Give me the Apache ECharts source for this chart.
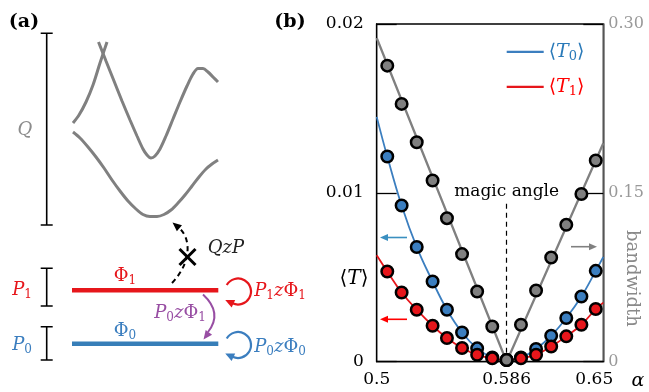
<!DOCTYPE html>
<html>
<head>
<meta charset="utf-8">
<script src="https://cdn.jsdelivr.net/npm/echarts@6/dist/echarts.min.js"></script>
<style>
  html, body { margin: 0; padding: 0; background: #fff; }
  #chart { width: 649px; height: 392px; }
</style>
</head>
<body>
<div id="chart"></div>
<script>
// panel (b) data
const alpha = [0.507, 0.5165, 0.5265, 0.537, 0.5465, 0.5565, 0.5665, 0.5765, 0.586, 0.5955, 0.6055, 0.6155, 0.6255, 0.6355, 0.645];
const bandwidth = [0.263, 0.229, 0.195, 0.161, 0.1275, 0.0956, 0.0624, 0.0313, 0.0015, 0.0328, 0.0633, 0.0926, 0.1216, 0.149, 0.1787];
const t0 = [0.01215, 0.00925, 0.00679, 0.00475, 0.00308, 0.00173, 0.00079, 0.00025, 0.0001, 0.00025, 0.00075, 0.00154, 0.00259, 0.00386, 0.00538];
const t1 = [0.00534, 0.0041, 0.00308, 0.00213, 0.0014, 0.00081, 0.00041, 0.0002, 0.0001, 0.0002, 0.00041, 0.0009, 0.0015, 0.00219, 0.00312];
const bandwidthFit = [[0.5, 0.2876], [0.586, 0], [0.65, 0.194]];
const t0Ends = [[0.5, 0.0145], [0.65, 0.0062]];
const t1Ends = [[0.5, 0.0063], [0.65, 0.0035]];
const xTicks = [0.5, 0.586, 0.65];
const magicAngle = 0.586;

// panel (a) schematic curves, in pixel units of the left half
const bandUpper = [[73, 123], [79, 115], [86, 102], [93, 85], [100, 63], [107, 42]];
const bandMiddle = [[98.5, 42], [106, 61], [114, 81], [122, 101], [130, 120], [137, 136], [143, 149], [147, 155], [151, 158], [155, 156], [160, 149], [166, 136], [173, 119], [180, 102], [187, 86], [193, 74], [198, 68.5], [203, 68.5], [208, 72], [213, 77], [218, 82]];
const bandLower = [[73, 132], [80, 138], [88, 147], [96, 157], [104, 168], [112, 180], [120, 191], [128, 201], [136, 209], [143, 214.5], [150, 216.5], [157, 216.5], [164, 214.5], [171, 210], [178, 203], [185, 195], [192, 186], [199, 177], [206, 169], [212, 164], [218, 160]];
const levelP1 = [[72, 290.3], [218.3, 290.3]];
const levelP0 = [[72, 343.7], [218.3, 343.7]];

const F = 'DejaVu Serif';
const BLUE = '#3b7ebf';
const RED = '#e6161b';
const GRAY = '#808080';
const PURPLE = '#984ea3';

const chart = echarts.init(document.getElementById('chart'));

function arrowHead(tx, ty, ang, len, half, color) {
  const bx = tx - len * Math.cos(ang), by = ty - len * Math.sin(ang);
  const px = -Math.sin(ang) * half, py = Math.cos(ang) * half;
  return { type: 'polygon', silent: true, shape: { points: [[tx, ty], [bx + px, by + py], [bx - px, by - py]] }, style: { fill: color } };
}

function straightArrow(x1, x2, y, color) {
  const ang = x2 > x1 ? 0 : Math.PI;
  const dir = x2 > x1 ? 1 : -1;
  return [
    { type: 'line', silent: true, shape: { x1: x1, y1: y, x2: x2 - dir * 6, y2: y }, style: { stroke: color, lineWidth: 1.6 } },
    arrowHead(x2, y, ang, 8, 3.5, color)
  ];
}

function loopArrow(cx, cy, r, color) {
  const a0 = -150 * Math.PI / 180, a1 = 115 * Math.PI / 180;
  const ex = cx + r * Math.cos(a1), ey = cy + r * Math.sin(a1);
  const dx = -Math.sin(a1), dy = Math.cos(a1);
  return [
    { type: 'arc', silent: true, shape: { cx: cx, cy: cy, r: r, startAngle: a0, endAngle: a1, clockwise: true }, style: { stroke: color, lineWidth: 2.2, fill: 'none' } },
    arrowHead(ex + dx * 8, ey + dy * 8, Math.atan2(dy, dx), 9, 4.2, color)
  ];
}

function ibar(x, y1, y2) {
  return { type: 'polyline', silent: true, shape: { points: [[x - 6, y1], [x + 6, y1], [x, y1], [x, y2], [x - 6, y2], [x + 6, y2]] }, style: { stroke: '#000', lineWidth: 1.6, fill: 'none' } };
}

const richA = {
  i: { fontFamily: F, fontStyle: 'italic', fontSize: 18, lineHeight: 22 },
  u: { fontFamily: F, fontSize: 18, lineHeight: 22 },
  s: { fontFamily: F, fontSize: 12, lineHeight: 12, verticalAlign: 'bottom' }
};

function txt(x, y, text, color, extra) {
  return {
    type: 'text', silent: true, x: x, y: y,
    style: Object.assign({ text: text, fill: color, fontFamily: F, fontSize: 18, align: 'center', verticalAlign: 'middle', rich: richA }, extra || {})
  };
}

const graphics = [
  // panel labels
  txt(24, 22, '(a)', '#000', { fontWeight: 'bold', fontSize: 19 }),
  txt(290, 22, '(b)', '#000', { fontWeight: 'bold', fontSize: 19 }),
  // energy windows
  ibar(46.7, 33.3, 225),
  ibar(46.7, 268.3, 306),
  ibar(46.7, 326.7, 360),
  txt(25, 130, 'Q', '#8c8c8c', { fontStyle: 'italic' }),
  txt(22, 290, '{i|P}{s|1}', RED),
  txt(22, 345, '{i|P}{s|0}', BLUE),
  txt(125, 276, '{u|Φ}{s|1}', RED),
  txt(125, 331, '{u|Φ}{s|0}', BLUE),
  txt(280, 291, '{i|P}{s|1}{i|z}{u|Φ}{s|1}', RED),
  txt(180, 313, '{i|P}{s|0}{i|z}{u|Φ}{s|1}', PURPLE),
  txt(280, 347, '{i|P}{s|0}{i|z}{u|Φ}{s|0}', BLUE),
  txt(226, 248, 'QzP', '#222', { fontStyle: 'italic' }),
  // forbidden Q-P coupling
  { type: 'bezierCurve', silent: true, shape: { x1: 172, y1: 283, cpx1: 192, cpy1: 262, cpx2: 191, cpy2: 238, x2: 179, y2: 228 }, style: { stroke: '#000', lineWidth: 2, lineDash: [5, 4], fill: 'none' } },
  arrowHead(172.5, 222.5, Math.atan2(-10, -12), 9, 4, '#000'),
  { type: 'line', silent: true, shape: { x1: 179.5, y1: 249, x2: 195.5, y2: 265 }, style: { stroke: '#000', lineWidth: 3 } },
  { type: 'line', silent: true, shape: { x1: 179.5, y1: 265, x2: 195.5, y2: 249 }, style: { stroke: '#000', lineWidth: 3 } },
  // purple transfer arrow
  { type: 'bezierCurve', silent: true, shape: { x1: 203, y1: 294.5, cpx1: 223, cpy1: 313, x2: 208, y2: 332 }, style: { stroke: PURPLE, lineWidth: 2, fill: 'none' } },
  arrowHead(203.5, 339.5, Math.atan2(20, -15), 9, 4, PURPLE),
  ...loopArrow(238, 291.5, 13, RED),
  ...loopArrow(238, 345, 13, BLUE),
  // panel (b) annotations
  ...straightArrow(407, 380, 237.5, '#3a8fc0'),
  ...straightArrow(407, 380, 319.3, '#ff0000'),
  ...straightArrow(571, 597, 246.7, GRAY),
  txt(354, 279, '{a|⟨}{b|T}{a|⟩}', '#000', {
    rich: {
      a: { fontFamily: F, fontSize: 20 },
      b: { fontFamily: F, fontSize: 20, fontStyle: 'italic' }
    }
  }),
  txt(638, 381, 'α', '#000', { fontStyle: 'italic', fontSize: 19 }),
  { type: 'text', silent: true, x: 632, y: 278.5, rotation: -Math.PI / 2,
    style: { text: 'bandwidth', fill: '#8a8a8a', fontFamily: F, fontSize: 18, align: 'center', verticalAlign: 'middle' } }
];

function legendRich(c) {
  return { fontFamily: F, fontSize: 19, color: c, lineHeight: 22 };
}

const option = {
  animation: false,
  textStyle: { fontFamily: F },
  grid: [
    { left: 376.7, top: 24, right: 45.7, bottom: 30.3, show: true, borderColor: '#000', borderWidth: 1.3 },
    { left: 0, top: 0, width: 320, height: 392 }
  ],
  legend: {
    data: [{ name: 'T0' }, { name: 'T1' }],
    orient: 'vertical',
    left: 501.7, top: 37.3,
    itemWidth: 37, itemHeight: 2.2, itemGap: 14.5, itemTextGap: 11,
    icon: 'rect',
    selectedMode: false,
    formatter: n => n === 'T0' ? '{bu|⟨}{bi|T}{bs|0}{bu|⟩}' : '{ru|⟨}{ri|T}{rs|1}{ru|⟩}',
    textStyle: {
      rich: {
        bu: legendRich('#2a7ab9'),
        bi: Object.assign(legendRich('#2a7ab9'), { fontStyle: 'italic' }),
        bs: { fontFamily: F, fontSize: 13, color: '#2a7ab9', lineHeight: 13, verticalAlign: 'bottom' },
        ru: legendRich('#ff0000'),
        ri: Object.assign(legendRich('#ff0000'), { fontStyle: 'italic' }),
        rs: { fontFamily: F, fontSize: 13, color: '#ff0000', lineHeight: 13, verticalAlign: 'bottom' }
      }
    }
  },
  xAxis: [
    {
      type: 'value', gridIndex: 0, min: 0.5, max: 0.65,
      axisLine: { lineStyle: { color: '#000', width: 1.3 } },
      axisTick: { show: false },
      splitLine: { show: false },
      axisLabel: {
        customValues: xTicks,
        color: '#000', fontSize: 17, fontFamily: F, margin: 9,
        formatter: v => v === 0.65 ? '{r|0.65}' : String(v),
        rich: { r: { fontSize: 17, fontFamily: F, color: '#000', padding: [0, 18, 0, 0] } }
      }
    },
    { type: 'value', gridIndex: 1, min: 0, max: 320, show: false }
  ],
  yAxis: [
    {
      type: 'value', gridIndex: 0, min: 0, max: 0.02, interval: 0.01,
      axisLine: { show: true, lineStyle: { color: '#000', width: 1.3 } },
      axisTick: { show: true, inside: true, length: 20, lineStyle: { color: '#000', width: 1.3 } },
      splitLine: { show: false },
      axisLabel: { color: '#000', fontSize: 17, fontFamily: F, margin: 13, formatter: v => v === 0 ? '0' : v.toFixed(2) }
    },
    {
      type: 'value', gridIndex: 0, position: 'right', min: 0, max: 0.30, interval: 0.15,
      axisLine: { show: true, lineStyle: { color: '#6e6e6e', width: 1.5 } },
      axisTick: { show: true, inside: true, length: 20, lineStyle: { color: '#000', width: 1.3 } },
      splitLine: { show: false },
      axisLabel: { color: '#999', fontSize: 16, fontFamily: F, margin: 5, formatter: v => v === 0 ? '0' : v.toFixed(2) }
    },
    { type: 'value', gridIndex: 1, min: 0, max: 392, inverse: true, show: false }
  ],
  series: [
    // schematic, panel (a)
    ...[bandUpper, bandMiddle, bandLower].map(d => ({
      type: 'line', xAxisIndex: 1, yAxisIndex: 2, data: d, smooth: 0.3, symbol: 'none', silent: true,
      lineStyle: { color: GRAY, width: 3 }
    })),
    { type: 'line', xAxisIndex: 1, yAxisIndex: 2, data: levelP1, symbol: 'none', silent: true, lineStyle: { color: RED, width: 4.5, cap: 'butt' } },
    { type: 'line', xAxisIndex: 1, yAxisIndex: 2, data: levelP0, symbol: 'none', silent: true, lineStyle: { color: '#377eb8', width: 4.5, cap: 'butt' } },
    // panel (b)
    {
      name: 'bw fit', type: 'line', xAxisIndex: 0, yAxisIndex: 1, data: bandwidthFit, symbol: 'none',
      lineStyle: { color: GRAY, width: 2.3 }, z: 2
    },
    {
      name: 'T0', type: 'line', xAxisIndex: 0, yAxisIndex: 0, color: BLUE, symbol: 'none', smooth: 0.4,
      data: [t0Ends[0], ...alpha.map((a, i) => [a, t0[i]]), t0Ends[1]],
      lineStyle: { color: BLUE, width: 1.8 }, z: 2
    },
    {
      name: 'T1', type: 'line', xAxisIndex: 0, yAxisIndex: 0, color: RED, symbol: 'none', smooth: 0.4,
      data: [t1Ends[0], ...alpha.map((a, i) => [a, t1[i]]), t1Ends[1]],
      lineStyle: { color: RED, width: 1.8 }, z: 2
    },
    {
      name: 'T0 dots', type: 'scatter', xAxisIndex: 0, yAxisIndex: 0, symbolSize: 11.5,
      data: alpha.map((a, i) => [a, t0[i]]),
      itemStyle: { color: BLUE, borderColor: '#000', borderWidth: 2.5, opacity: 1 }, z: 3,
      markLine: {
        silent: true, symbol: ['none', 'none'],
        lineStyle: { color: '#000', width: 1.2, type: [5, 4] },
        label: { show: true, position: 'end', formatter: 'magic angle', color: '#000', fontSize: 17, fontFamily: F, distance: 3 },
        data: [[{ coord: [magicAngle, 0] }, { coord: [magicAngle, 0.0094] }]]
      }
    },
    {
      name: 'T1 dots', type: 'scatter', xAxisIndex: 0, yAxisIndex: 0, symbolSize: 11.5,
      data: alpha.map((a, i) => [a, t1[i]]),
      itemStyle: { color: RED, borderColor: '#000', borderWidth: 2.5, opacity: 1 }, z: 4
    },
    {
      name: 'bw dots', type: 'scatter', xAxisIndex: 0, yAxisIndex: 1, symbolSize: 11.5,
      data: alpha.map((a, i) => [a, bandwidth[i]]),
      itemStyle: { color: GRAY, borderColor: '#000', borderWidth: 2.5, opacity: 1 }, z: 5
    }
  ],
  graphic: graphics
};

chart.setOption(option);
</script>
</body>
</html>
